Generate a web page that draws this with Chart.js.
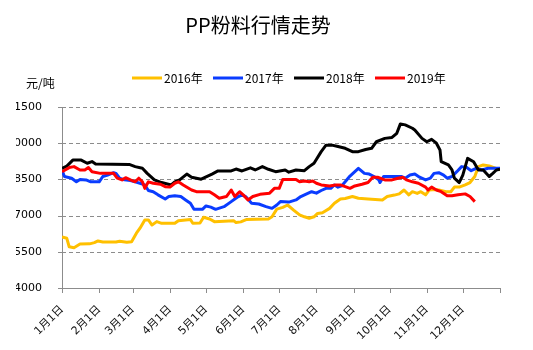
<!DOCTYPE html>
<html>
<head>
<meta charset="utf-8">
<title>PP粉料行情走势</title>
<script src="https://cdn.jsdelivr.net/npm/chart.js@4/dist/chart.umd.min.js"></script>
<style>
  html, body { margin: 0; padding: 0; background: #fff; }
  canvas { display: block; }
</style>
</head>
<body>
<canvas id="chart" width="533" height="350"></canvas>
<script>
// Series names shown in the legend
const seriesNames = ['2016年', '2017年', '2018年', '2019年'];

// Axis labels
const unitLabel = '元/吨';
const monthStarts = [0, 31, 59, 90, 120, 151, 181, 212, 243, 273, 304, 334, 365];
const monthLabels = ['1月1日', '2月1日', '3月1日', '4月1日', '5月1日', '6月1日',
                     '7月1日', '8月1日', '9月1日', '10月1日', '11月1日', '12月1日', ''];
const yTicks = [4000, 5500, 7000, 8500, 10000, 11500];

// 2016: day of year / price
const days2016 = [0, 4, 6, 10, 15, 23, 27, 30, 34, 45, 48, 54, 58, 62, 65, 69, 72, 75, 79, 83, 94, 97, 107, 109, 115, 118, 123, 127, 143, 145, 149, 154, 162, 172, 175, 179, 184, 188, 193, 198, 202, 206, 210, 213, 217, 223, 227, 232, 236, 242, 247, 255, 267, 271, 277, 281, 285, 289, 292, 296, 299, 303, 306, 311, 314, 320, 324, 327, 331, 336, 340, 344, 347, 351, 356, 365];
const prices2016 = [6120, 6060, 5710, 5670, 5820, 5830, 5880, 5950, 5910, 5910, 5940, 5900, 5920, 6270, 6480, 6820, 6820, 6610, 6750, 6680, 6680, 6790, 6840, 6680, 6690, 6930, 6860, 6750, 6790, 6710, 6740, 6840, 6850, 6860, 6950, 7270, 7340, 7440, 7230, 7030, 6950, 6890, 6950, 7090, 7120, 7300, 7510, 7690, 7710, 7790, 7720, 7690, 7650, 7790, 7850, 7900, 8060, 7860, 7990, 7920, 7990, 7860, 8060, 8080, 8060, 7990, 7990, 8180, 8180, 8270, 8370, 8620, 9030, 9100, 9060, 8900];

// 2017
const days2017 = [0, 2, 8, 12, 15, 20, 24, 31, 34, 38, 43, 45, 48, 52, 57, 61, 65, 69, 72, 76, 80, 86, 89, 94, 99, 103, 107, 110, 117, 120, 124, 128, 135, 141, 144, 147, 150, 153, 158, 164, 170, 175, 179, 182, 189, 195, 199, 203, 208, 212, 216, 220, 224, 227, 230, 233, 236, 240, 247, 252, 256, 260, 264, 265, 268, 275, 283, 286, 290, 294, 298, 303, 307, 310, 314, 318, 321, 325, 329, 333, 337, 341, 345, 350, 355, 365];
const prices2017 = [8890, 8620, 8550, 8400, 8500, 8480, 8400, 8400, 8620, 8680, 8780, 8750, 8550, 8480, 8450, 8400, 8340, 8270, 8040, 7990, 7860, 7690, 7790, 7820, 7790, 7650, 7510, 7260, 7260, 7400, 7350, 7260, 7370, 7580, 7690, 7790, 7860, 7790, 7510, 7480, 7370, 7300, 7440, 7580, 7560, 7650, 7790, 7880, 7990, 7930, 8040, 8130, 8130, 8270, 8180, 8230, 8400, 8640, 8960, 8750, 8720, 8620, 8480, 8370, 8620, 8620, 8620, 8550, 8680, 8720, 8590, 8480, 8550, 8750, 8780, 8680, 8550, 8620, 8820, 9030, 9000, 8860, 8960, 8890, 8960, 8960];

// 2018
const days2018 = [0, 4, 9, 16, 21, 25, 28, 56, 61, 67, 71, 77, 83, 91, 94, 98, 104, 108, 116, 125, 130, 141, 145, 150, 157, 161, 167, 172, 178, 186, 189, 195, 202, 206, 210, 216, 220, 225, 230, 236, 242, 247, 253, 258, 262, 269, 275, 279, 282, 286, 292, 294, 300, 304, 308, 312, 315, 316, 322, 325, 327, 331, 334, 338, 343, 347, 351, 356, 359, 362, 365];
const prices2018 = [8960, 9050, 9300, 9300, 9170, 9240, 9140, 9120, 9030, 8960, 8750, 8480, 8370, 8270, 8400, 8480, 8720, 8590, 8510, 8720, 8850, 8850, 8930, 8850, 8980, 8890, 9030, 8920, 8820, 8890, 8800, 8890, 8860, 9030, 9170, 9650, 9920, 9920, 9860, 9790, 9650, 9650, 9740, 9790, 10060, 10200, 10240, 10410, 10800, 10760, 10620, 10550, 10200, 10060, 10160, 10000, 9720, 9240, 9100, 8890, 8550, 8370, 8680, 9370, 9230, 8890, 8890, 8620, 8750, 8890, 8920];

// 2019
const days2019 = [0, 6, 10, 15, 19, 22, 25, 32, 43, 46, 50, 53, 57, 61, 64, 67, 69, 72, 76, 82, 86, 90, 94, 97, 101, 108, 112, 123, 127, 131, 137, 141, 144, 148, 151, 155, 159, 165, 173, 177, 181, 184, 195, 198, 202, 206, 209, 212, 216, 223, 228, 232, 236, 240, 244, 250, 255, 259, 263, 269, 275, 280, 284, 287, 292, 297, 303, 305, 308, 312, 316, 321, 325, 330, 336, 340, 344];
const prices2019 = [8820, 8990, 9030, 8890, 8890, 8990, 8820, 8750, 8750, 8550, 8480, 8570, 8480, 8400, 8550, 8400, 8130, 8400, 8340, 8300, 8200, 8180, 8340, 8400, 8270, 8060, 7990, 7990, 7860, 7720, 7790, 8060, 7790, 7990, 7860, 7650, 7790, 7880, 7930, 8130, 8130, 8500, 8500, 8400, 8430, 8400, 8430, 8340, 8270, 8230, 8270, 8270, 8200, 8130, 8230, 8300, 8370, 8590, 8590, 8480, 8480, 8550, 8590, 8480, 8400, 8340, 8180, 8060, 8180, 8060, 7990, 7820, 7820, 7860, 7900, 7790, 7580];

const seriesColors = ['#FFC000', '#0A3CFF', '#000000', '#FF0000'];

const toPoints = (days, prices) => days.map((d, i) => ({ x: d, y: prices[i] }));
const seriesPoints = [
  toPoints(days2016, prices2016),
  toPoints(days2017, prices2017),
  toPoints(days2018, prices2018),
  toPoints(days2019, prices2019)
];

const axisGray = '#8c8c8c';
const cjk = '"Noto Sans CJK SC", sans-serif';
const tickFont = '"DejaVu Sans", "Noto Sans CJK SC", sans-serif';

// Dashed value gridlines and axis tick marks, placed through the chart's scales
const gridMarks = {
  id: 'gridMarks',
  beforeDatasetsDraw(chart) {
    const { ctx, chartArea: a, scales: { x, y } } = chart;
    ctx.save();
    ctx.strokeStyle = axisGray;
    ctx.lineWidth = 1;
    y.ticks.forEach(t => {
      const py = Math.round(y.getPixelForValue(t.value)) + 0.5;
      ctx.setLineDash([4, 3]);
      ctx.beginPath();
      ctx.moveTo(a.left, py);
      ctx.lineTo(a.right, py);
      ctx.stroke();
      ctx.setLineDash([]);
      ctx.beginPath();
      ctx.moveTo(a.left - 4, py);
      ctx.lineTo(a.left, py);
      ctx.stroke();
    });
    x.ticks.forEach(t => {
      const px = Math.round(x.getPixelForValue(t.value)) + 0.5;
      ctx.beginPath();
      ctx.moveTo(px, a.bottom);
      ctx.lineTo(px, a.bottom + 5);
      ctx.stroke();
    });
    ctx.restore();
  }
};

// Unit caption and a single-row legend (line swatch + year) above the plot
const headerRow = {
  id: 'headerRow',
  afterDraw(chart) {
    const ctx = chart.ctx;
    ctx.save();
    ctx.font = '12px ' + cjk;
    ctx.fillStyle = '#000';
    ctx.textBaseline = 'middle';
    ctx.textAlign = 'left';
    ctx.fillText(unitLabel, 26, 83);

    const startX = 132, stepX = 81, rowY = 78, swatch = 30;
    chart.data.datasets.forEach((ds, i) => {
      const x = startX + i * stepX;
      ctx.strokeStyle = ds.borderColor;
      ctx.lineWidth = 3;
      ctx.beginPath();
      ctx.moveTo(x, rowY);
      ctx.lineTo(x + swatch, rowY);
      ctx.stroke();
      ctx.fillStyle = '#000';
      ctx.fillText(ds.label, x + swatch + 2, rowY);
    });
    ctx.restore();
  }
};

new Chart(document.getElementById('chart'), {
  type: 'line',
  data: {
    datasets: seriesNames.map((name, i) => ({
      label: name,
      data: seriesPoints[i],
      borderColor: seriesColors[i],
      backgroundColor: seriesColors[i],
      borderWidth: 3,
      pointRadius: 0,
      tension: 0,
      fill: false,
      borderJoinStyle: 'round',
      order: seriesNames.length - 1 - i
    }))
  },
  options: {
    responsive: false,
    animation: false,
    layout: { padding: { left: 16, right: 33, top: 0, bottom: 0 } },
    plugins: {
      title: {
        display: true,
        text: 'PP粉料行情走势',
        color: '#000',
        font: { family: cjk, size: 20, weight: 'normal' },
        padding: { top: 13, bottom: 70 }
      },
      legend: { display: false },
      tooltip: { enabled: false }
    },
    scales: {
      x: {
        type: 'linear',
        min: 0,
        max: 365,
        afterBuildTicks(scale) {
          scale.ticks = monthStarts.map(v => ({ value: v }));
        },
        afterFit(scale) { scale.height = 62; },
        ticks: {
          autoSkip: false,
          minRotation: 45,
          maxRotation: 45,
          padding: 7,
          color: '#111',
          font: { family: tickFont, size: 11 },
          callback: (v, i) => monthLabels[i] ?? ''
        },
        grid: { display: false },
        border: { display: true, color: axisGray, width: 1 }
      },
      y: {
        min: 4000,
        max: 11500,
        afterBuildTicks(scale) {
          scale.ticks = yTicks.map(v => ({ value: v }));
        },
        afterFit(scale) { scale.width = 46; },
        ticks: {
          padding: 12,
          color: '#000',
          font: { family: tickFont, size: 11 },
          callback: v => String(v)
        },
        grid: { display: false },
        border: { display: true, color: axisGray, width: 1 }
      }
    }
  },
  plugins: [gridMarks, headerRow]
});
</script>
</body>
</html>
